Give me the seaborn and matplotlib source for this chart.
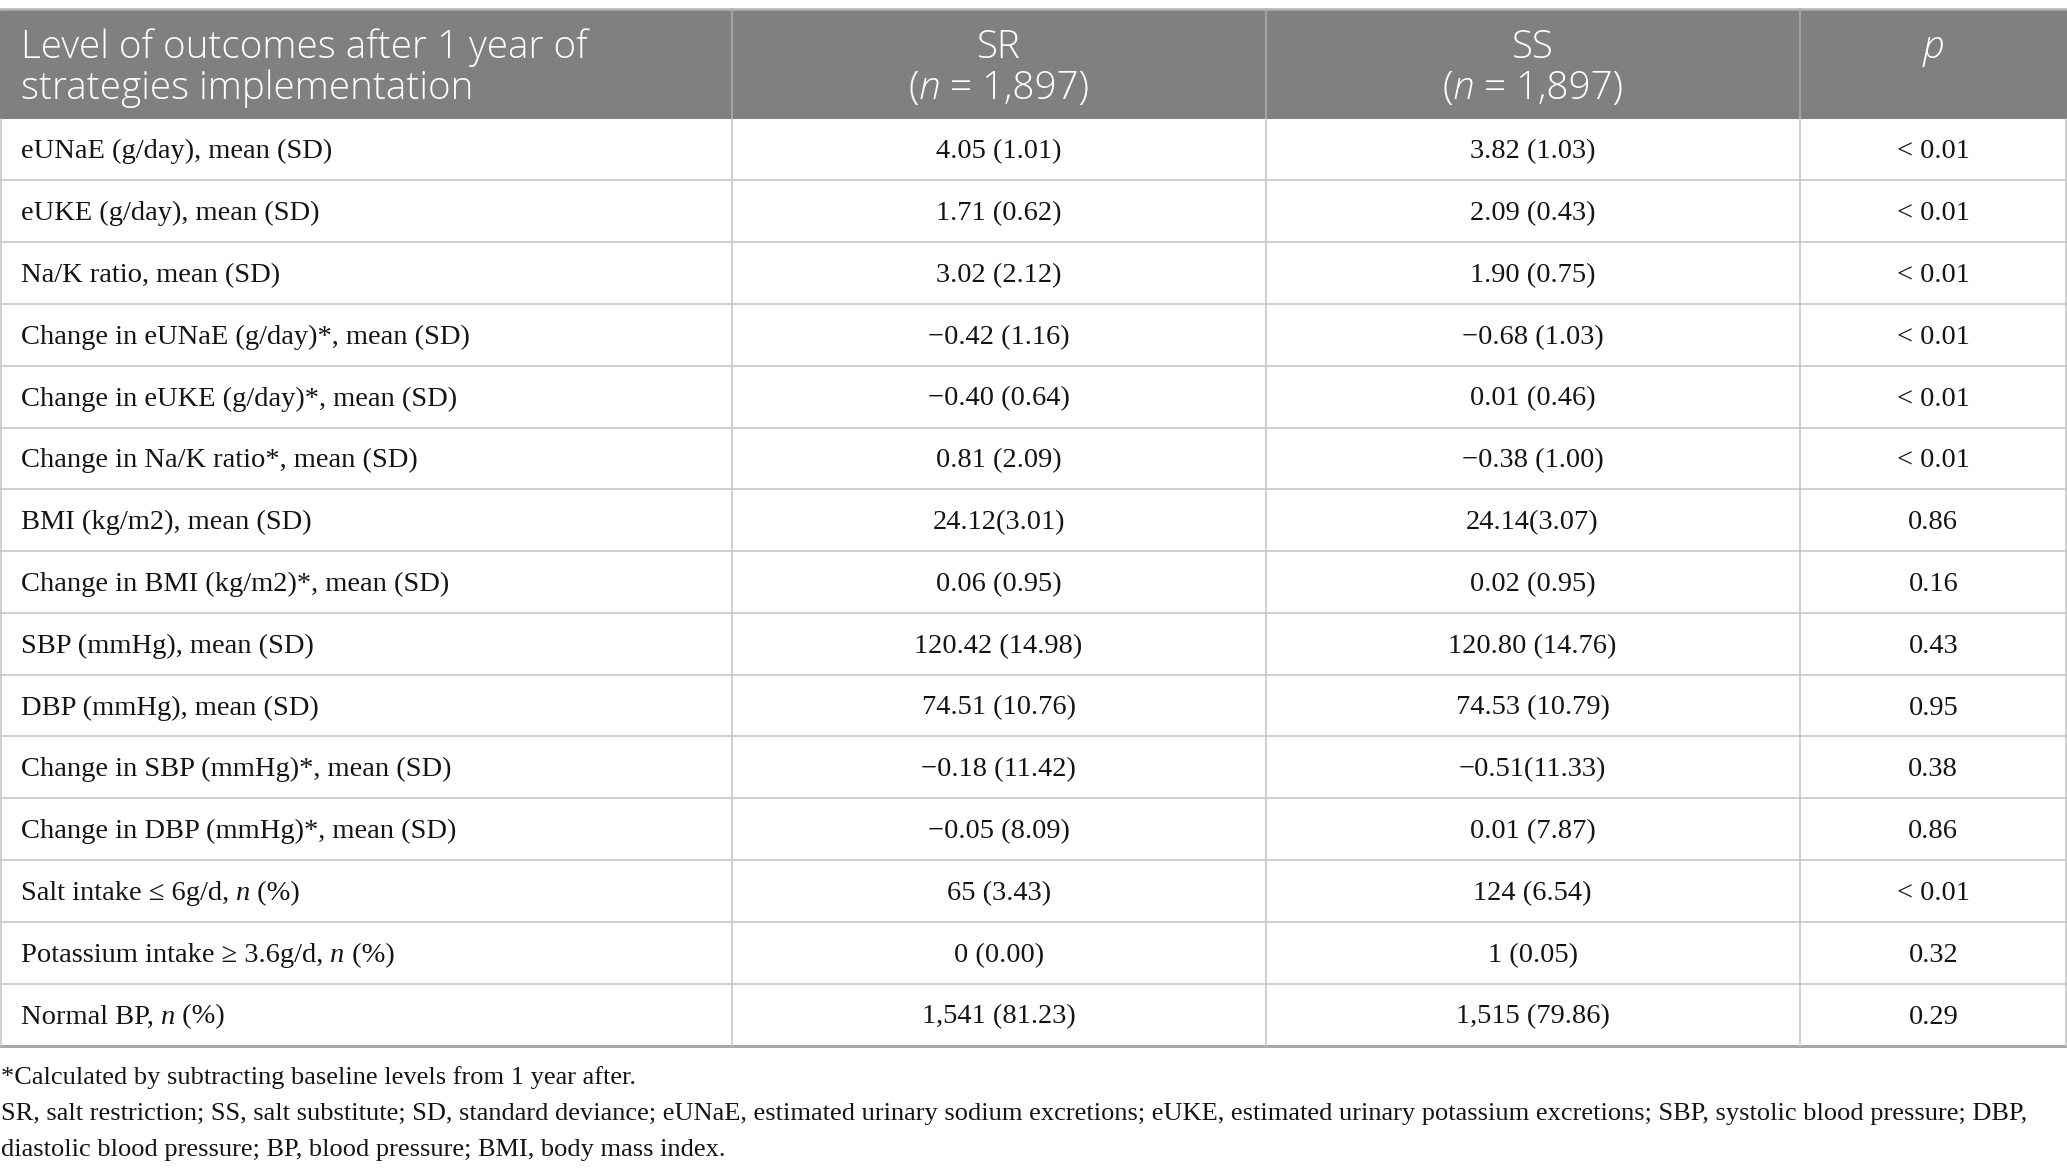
import re
import numpy as np
import pandas as pd
import seaborn as sns
import matplotlib.pyplot as plt
from matplotlib.patches import Rectangle

# ---------------- table contents ----------------
# text inside {} is set in italics
header_cols = ["Level of outcomes after 1 year of\nstrategies implementation",
               "SR\n({n} = 1,897)",
               "SS\n({n} = 1,897)",
               "{p}"]
outcomes = ["eUNaE (g/day), mean (SD)",
            "eUKE (g/day), mean (SD)",
            "Na/K ratio, mean (SD)",
            "Change in eUNaE (g/day)*, mean (SD)",
            "Change in eUKE (g/day)*, mean (SD)",
            "Change in Na/K ratio*, mean (SD)",
            "BMI (kg/m2), mean (SD)",
            "Change in BMI (kg/m2)*, mean (SD)",
            "SBP (mmHg), mean (SD)",
            "DBP (mmHg), mean (SD)",
            "Change in SBP (mmHg)*, mean (SD)",
            "Change in DBP (mmHg)*, mean (SD)",
            "Salt intake \u2264 6g/d, {n} (%)",
            "Potassium intake \u2265 3.6g/d, {n} (%)",
            "Normal BP, {n} (%)"]
sr_vals = ["4.05 (1.01)", "1.71 (0.62)", "3.02 (2.12)", "\u22120.42 (1.16)",
           "\u22120.40 (0.64)", "0.81 (2.09)", "24.12(3.01)", "0.06 (0.95)",
           "120.42 (14.98)", "74.51 (10.76)", "\u22120.18 (11.42)",
           "\u22120.05 (8.09)", "65 (3.43)", "0 (0.00)", "1,541 (81.23)"]
ss_vals = ["3.82 (1.03)", "2.09 (0.43)", "1.90 (0.75)", "\u22120.68 (1.03)",
           "0.01 (0.46)", "\u22120.38 (1.00)", "24.14(3.07)", "0.02 (0.95)",
           "120.80 (14.76)", "74.53 (10.79)", "\u22120.51(11.33)",
           "0.01 (7.87)", "124 (6.54)", "1 (0.05)", "1,515 (79.86)"]
p_vals = ["< 0.01", "< 0.01", "< 0.01", "< 0.01", "< 0.01", "< 0.01", "0.86",
          "0.16", "0.43", "0.95", "0.38", "0.86", "< 0.01", "0.32", "0.29"]
notes = ["*Calculated by subtracting baseline levels from 1 year after.",
         "SR, salt restriction; SS, salt substitute; SD, standard deviance; eUNaE, "
         "estimated urinary sodium excretions; eUKE, estimated urinary potassium "
         "excretions; SBP, systolic blood pressure; DBP,",
         "diastolic blood pressure; BP, blood pressure; BMI, body mass index."]

df = pd.DataFrame({"outcome": outcomes, "SR": sr_vals, "SS": ss_vals, "p": p_vals})

# ---------------- layout ----------------
sns.set_theme(style="white")
plt.rcParams["font.family"] = ["Liberation Serif", "DejaVu Serif"]
SANS = ["Open Sans", "DejaVu Sans"]

W, H = 2067, 1176
top, head_h, row_h = 9, 109.5, 61.8
col_edges = [0, 731.6, 1265.6, 1799.5, W]
head_bg = "#808080"
grid_c = "#c8c8c8"

fig = plt.figure(figsize=(W / 100, H / 100), dpi=100)
ax = fig.add_axes([0, 0, 1, 1])
ax.set_xlim(0, W)
ax.set_ylim(H, 0)
ax.axis("off")
renderer = fig.canvas.get_renderer()


def split_parts(s):
    out = []
    for i, piece in enumerate(re.split(r"\{(.*?)\}", s)):
        if piece:
            out.append((piece, i % 2 == 1))
    return out


def text_width(s, **kw):
    t = ax.text(0, 0, "|" + s + "|", **kw)
    w1 = t.get_window_extent(renderer).width
    t.set_text("||")
    w0 = t.get_window_extent(renderer).width
    t.remove()
    return w1 - w0


def draw_rich(x, y, s, ha="left", **kw):
    segs = split_parts(s)
    widths = [text_width(p, style="italic" if it else "normal", **kw) for p, it in segs]
    x0 = x - sum(widths) / 2 if ha == "center" else x
    for (p, it), w in zip(segs, widths):
        ax.text(x0, y, p, ha="left", va="baseline",
                style="italic" if it else "normal", **kw)
        x0 += w


# header block
ax.add_patch(Rectangle((0, top), W, head_h, facecolor=head_bg, edgecolor="none"))
ax.plot([0, W], [top, top], color="#b4b4b4", lw=1.8)
for xe in col_edges[1:-1]:
    ax.plot([xe, xe], [top, top + head_h], color="#a9a9a9", lw=1.2)

head_size = 27.8
line_y = [top + 35, top + 76]
for j, txt in enumerate(header_cols):
    lines = txt.split("\n")
    for k, line in enumerate(lines):
        if j == 0:
            draw_rich(21, line_y[k] + 14, line, ha="left", color="white",
                      fontsize=head_size, family=SANS, fontweight="light")
        else:
            xc = (col_edges[j] + col_edges[j + 1]) / 2
            draw_rich(xc, line_y[k] + 14, line, ha="center", color="white",
                      fontsize=head_size, family=SANS, fontweight="light")

# body rows
body_size = 20.5
body_top = top + head_h
n_rows = len(df)
for i, row in df.iterrows():
    y0 = body_top + i * row_h
    yc = y0 + row_h / 2
    ax.plot([0, W], [y0 + row_h, y0 + row_h],
            color="#a8a8a8" if i == n_rows - 1 else grid_c,
            lw=2.2 if i == n_rows - 1 else 1.2)
    draw_rich(21, yc + 9, row["outcome"], fontsize=body_size, color="#141414")
    for j, key in enumerate(["SR", "SS", "p"], start=1):
        xc = (col_edges[j] + col_edges[j + 1]) / 2
        draw_rich(xc, yc + 9, row[key], ha="center", fontsize=body_size, color="#141414")

body_bottom = body_top + n_rows * row_h
for xe in col_edges:
    xe = min(max(xe, 0.6), W - 0.6)
    ax.plot([xe, xe], [body_top, body_bottom], color=grid_c, lw=1.2)

# footnotes
note_size = 19
for k, note in enumerate(notes):
    ax.text(1, 1076 + 36 * k + 8, note, ha="left", va="baseline",
            fontsize=note_size, color="#141414")

fig.savefig("out.png", dpi=100)
